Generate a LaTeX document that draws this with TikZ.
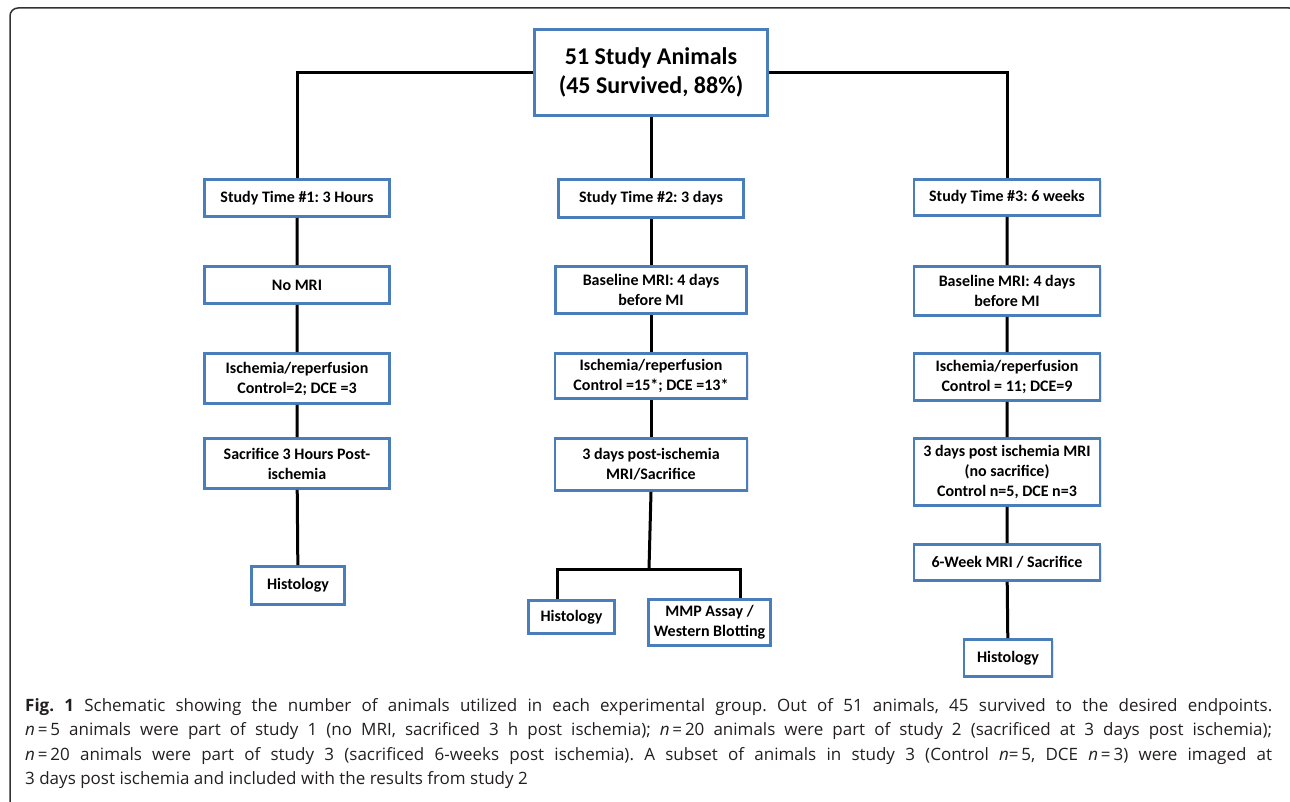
\documentclass[tikz,border=0pt]{standalone}
\usepackage{fontspec}
\setmainfont{Carlito}
\newfontfamily\captionfont{Open Sans}
\usepackage{xcolor}
\definecolor{boxBlue}{HTML}{4A7EBB}
\definecolor{frameGray}{HTML}{333333}
\definecolor{captionInk}{HTML}{231F20}
\usepackage{tikz}
\usetikzlibrary{shadows,calc}
\frenchspacing

\begin{document}
\begin{tikzpicture}[x=1pt, y=-1pt,
  stage/.style={draw=boxBlue, line width=2.6pt, fill=white, align=center, inner sep=0pt,
    font=\bfseries\fontsize{16}{20}\selectfont,
    drop shadow={shadow xshift=1.5pt, shadow yshift=-1.5pt, opacity=0.2}},
  link/.style={line width=3pt, black}]
  \useasboundingbox (0,0) rectangle (1290,802);
  % Frame
  \draw[frameGray, line width=1.5pt, rounded corners=8pt] (10,812) -- (10,8) -- (1297,8) -- (1297,812);
  % Root
  \node[stage, minimum width=233pt, minimum height=86pt, font=\bfseries\fontsize{24}{29}\selectfont] (root) at (651,72.5) {51 Study Animals\\(45 Survived, 88\%)};
  % Study 1 (left)
  \node[stage, minimum width=185pt, minimum height=37pt] (time1) at (297,198) {Study Time \#1: 3 Hours};
  \node[stage, minimum width=185pt, minimum height=37pt] (mri1) at (297,285) {No MRI};
  \node[stage, minimum width=185pt, minimum height=50pt] (isch1) at (297,378.5) {Ischemia/reperfusion\\Control=2; DCE =3};
  \node[stage, minimum width=185pt, minimum height=50pt] (sac1) at (297,463.5) {Sacrifice 3 Hours Post-\\ischemia};
  \node[stage, minimum width=93pt, minimum height=38pt] (hist1) at (298,585.5) {Histology};
  % Study 2 (middle)
  \node[stage, minimum width=185pt, minimum height=38pt] (time2) at (651,198.5) {Study Time \#2: 3 days};
  \node[stage, minimum width=191pt, minimum height=47pt] (mri2) at (651,290) {Baseline MRI: 4 days\\before MI};
  \node[stage, minimum width=192pt, minimum height=45pt] (isch2) at (651,376) {Ischemia/reperfusion\\Control =15*; DCE =13*};
  \node[stage, minimum width=192pt, minimum height=52pt] (sac2) at (651,464.5) {3 days post-ischemia\\MRI/Sacrifice};
  \node[stage, minimum width=86pt, minimum height=33pt] (hist2) at (571.5,617) {Histology};
  \node[stage, minimum width=122pt, minimum height=46pt] (assay2) at (709.5,622.5) {MMP Assay /\\Western Blotting};
  \coordinate (split) at (649,569);
  % Study 3 (right)
  \node[stage, minimum width=186pt, minimum height=36pt] (time3) at (1007,197.5) {Study Time \#3: 6 weeks};
  \node[stage, minimum width=186pt, minimum height=49pt] (mri3) at (1007,291) {Baseline MRI: 4 days\\before MI};
  \node[stage, minimum width=186pt, minimum height=47pt] (isch3) at (1007,377) {Ischemia/reperfusion\\Control = 11; DCE=9};
  \node[stage, minimum width=186pt, minimum height=67pt] (mid3) at (1007,472) {3 days post ischemia MRI\\(no sacrifice)\\Control n=5, DCE n=3};
  \node[stage, minimum width=186pt, minimum height=36pt] (wk3) at (1007,562.5) {6-Week MRI / Sacrifice};
  \node[stage, minimum width=88pt, minimum height=37pt] (hist3) at (1008,658) {Histology};
  % Connectors
  \draw[link] (root.west) -| (time1.north);
  \draw[link] (root.south) -- (time2.north);
  \draw[link] (root.east) -| (time3.north);
  \draw[link] (time1) -- (mri1) -- (isch1) -- (sac1) -- (hist1);
  \draw[link] (time2) -- (mri2) -- (isch2) -- (sac2);
  \draw[link] (sac2.south) -- (split);
  \draw[link] ([xshift=-14pt]hist2.north) |- (split) -| ([xshift=31pt]assay2.north);
  \draw[link] (time3) -- (mri3) -- (isch3) -- (mid3) -- (wk3) -- (hist3);
  % Caption
  \node[anchor=north west, text width=1247pt, align=justify, inner sep=0pt, text=captionInk,
    font=\captionfont\fontsize{17}{24.5}\selectfont] (caption) at (25,698)
    {{\bfseries Fig. 1} Schematic showing the number of animals utilized in each experimental group. Out of 51 animals, 45 survived to the desired endpoints.\linebreak
    \textit{n}\,=\,5 animals were part of study 1 (no MRI, sacrificed 3 h post ischemia); \textit{n}\,=\,20 animals were part of study 2 (sacrificed at 3 days post ischemia);\linebreak
    \textit{n}\,=\,20 animals were part of study 3 (sacrificed 6-weeks post ischemia). A subset of animals in study 3 (Control \textit{n}=\,5, DCE \textit{n}\,=\,3) were imaged at\linebreak
    3 days post ischemia and included with the results from study 2};
\end{tikzpicture}
\end{document}
